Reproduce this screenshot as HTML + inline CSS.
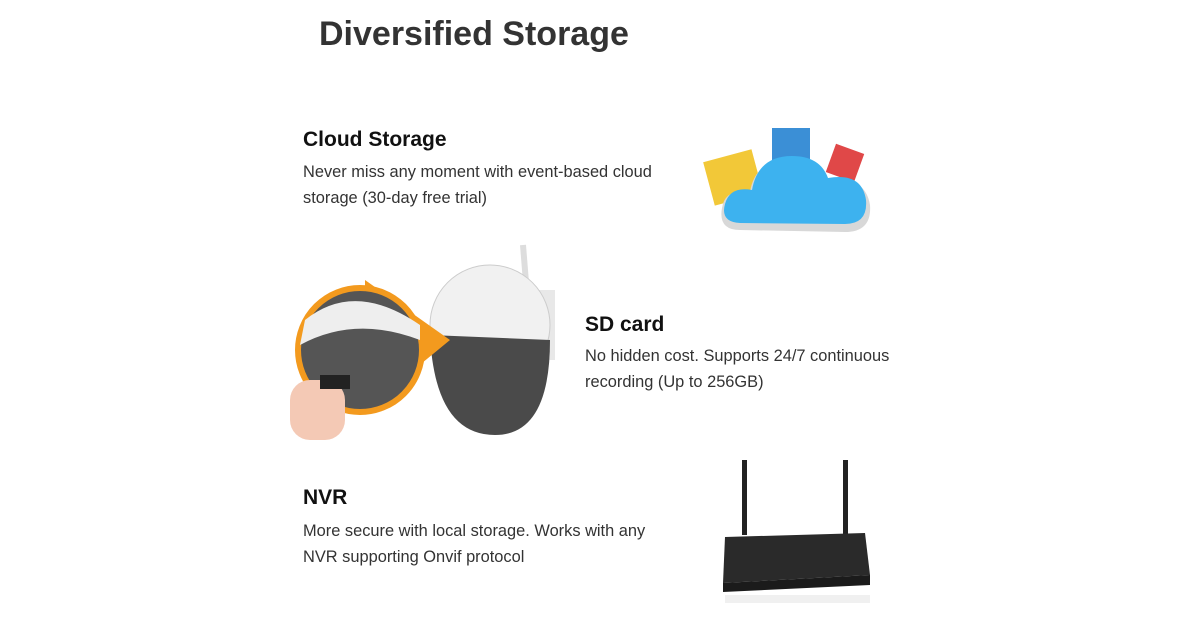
<!DOCTYPE html>
<html><head><style>
body{margin:0;width:1200px;height:630px;background:#fff;position:relative;overflow:hidden;font-family:"Liberation Sans",sans-serif;color:#222}
.t{position:absolute;white-space:nowrap}
h1{position:absolute;left:319px;top:15px;margin:0;font-size:34px;font-weight:bold;color:#333}
.h{font-size:21px;font-weight:bold;color:#111}
.p{font-size:16.4px;line-height:25.5px;color:#333}
</style></head><body>
<h1>Diversified Storage</h1>
<div class="t h" style="left:303px;top:128px">Cloud Storage</div>
<div class="t p" style="left:303px;top:160px">Never miss any moment with event-based cloud<br>storage (30-day free trial)</div>
<div class="t h" style="left:585px;top:313px">SD card</div>
<div class="t p" style="left:585px;top:344px">No hidden cost. Supports 24/7 continuous<br>recording (Up to 256GB)</div>
<div class="t h" style="left:303px;top:486px">NVR</div>
<div class="t p" style="left:303px;top:519px">More secure with local storage. Works with any<br>NVR supporting Onvif protocol</div>

<svg style="position:absolute;left:700px;top:120px" width="180" height="125">
<rect x="72" y="8" width="38" height="40" fill="#3b8fd6"/>
<rect x="130" y="28" width="30" height="30" fill="#e04848" transform="rotate(20 145 43)"/>
<rect x="8" y="35" width="50" height="45" fill="#f2c838" transform="rotate(-15 33 57)"/>
<path d="M40 110 Q18 110 22 88 Q25 68 50 72 Q55 40 90 40 Q120 38 128 62 Q165 55 170 85 Q172 112 145 112 Z" fill="#d8d8d8"/>
<path d="M40 103 Q20 102 25 84 Q30 66 52 70 Q58 36 92 36 Q120 36 128 58 Q162 52 166 80 Q168 104 145 104 Z" fill="#3db2ef"/>
</svg>

<svg style="position:absolute;left:285px;top:240px" width="280" height="210">
<path d="M238 5 L244 80" stroke="#ddd" stroke-width="6"/>
<rect x="230" y="50" width="40" height="70" fill="#e8e8e8"/>
<circle cx="205" cy="85" r="60" fill="#f1f1f1" stroke="#ccc"/>
<path d="M145 95 Q150 195 210 195 Q265 195 265 100 Z" fill="#4a4a4a"/>
<path d="M80 40 L165 100 L80 170 Z" fill="#f39a1e"/>
<circle cx="75" cy="110" r="62" fill="#555" stroke="#f39a1e" stroke-width="6"/>
<path d="M20 80 Q70 40 135 85 L135 100 Q70 75 15 105Z" fill="#eee"/>
<rect x="5" y="140" width="55" height="60" rx="20" fill="#f4c9b5"/>
<rect x="35" y="135" width="30" height="14" fill="#222"/>
</svg>

<svg style="position:absolute;left:715px;top:455px" width="165" height="150">
<rect x="27" y="5" width="5" height="75" fill="#222"/>
<rect x="128" y="5" width="5" height="75" fill="#222"/>
<path d="M10 82 L150 78 L155 120 L8 128 Z" fill="#2a2a2a"/>
<path d="M8 128 L155 120 L155 130 L8 137 Z" fill="#1b1b1b"/>
<rect x="10" y="140" width="145" height="8" fill="#f0f0f0"/>
</svg>
</body></html>
